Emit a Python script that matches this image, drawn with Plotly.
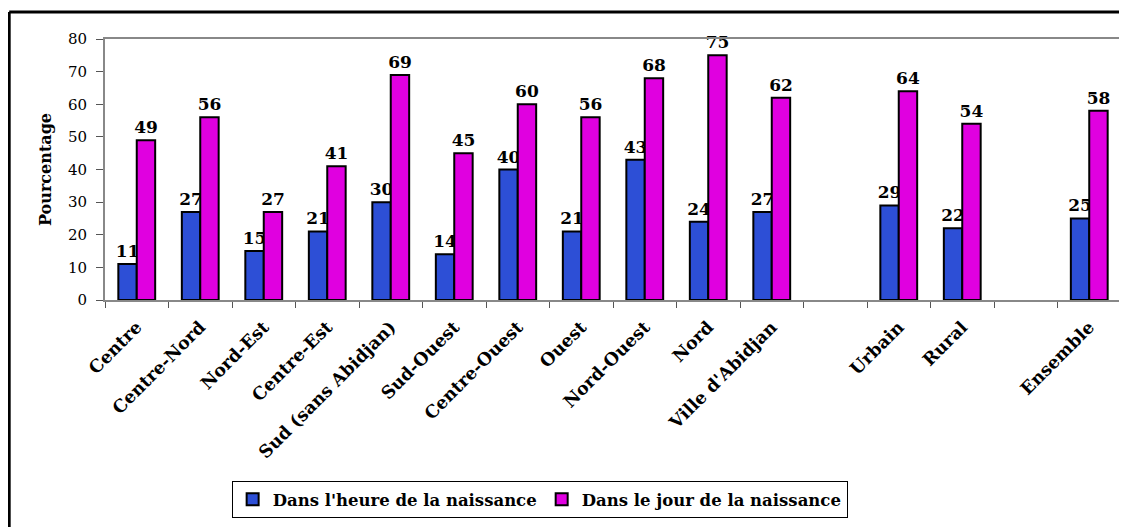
import plotly.graph_objects as go

categories = ["Centre", "Centre-Nord", "Nord-Est", "Centre-Est", "Sud (sans Abidjan)",
              "Sud-Ouest", "Centre-Ouest", "Ouest", "Nord-Ouest", "Nord", "Ville d'Abidjan",
              "Urbain", "Rural", "Ensemble"]
axis_order = ["Centre", "Centre-Nord", "Nord-Est", "Centre-Est", "Sud (sans Abidjan)",
              "Sud-Ouest", "Centre-Ouest", "Ouest", "Nord-Ouest", "Nord", "Ville d'Abidjan",
              " ", "Urbain", "Rural", "  ", "Ensemble"]
heure = [11, 27, 15, 21, 30, 14, 40, 21, 43, 24, 27, 29, 22, 25]
jour = [49, 56, 27, 41, 69, 45, 60, 56, 68, 75, 62, 64, 54, 58]
series_names = ["Dans l'heure de la naissance", "Dans le jour de la naissance"]

FONT = "DejaVu Serif"
# page body has an 8px margin: the figure is drawn at (8, 8)
W, H = 1119, 519
L, R, T, B = 97, 4, 31, 227
pw = W - L - R
ph = H - T - B

fig = go.Figure()
for name, vals, col in [(series_names[0], heure, "#2d4fd6"), (series_names[1], jour, "#e000e0")]:
    fig.add_trace(go.Bar(
        x=categories, y=vals, name=name,
        marker=dict(color=col, line=dict(color="black", width=2)),
        text=[str(v) for v in vals], textposition="outside", constraintext="none",
        textfont=dict(family=FONT, size=17, color="black", weight="bold"),
        cliponaxis=False,
    ))

fig.update_layout(
    width=W, height=H,
    margin=dict(l=L, r=R, t=T, b=B),
    paper_bgcolor="white", plot_bgcolor="white",
    barmode="group", bargap=0.42, bargroupgap=0,
    font=dict(family=FONT, color="black"),
    legend=dict(orientation="h", x=(532.5 - L) / pw, xanchor="center", y=(292 - 473) / ph, yanchor="top",
                bordercolor="black", borderwidth=1, bgcolor="white",
                font=dict(family=FONT, size=16.5, color="black", weight="bold"),
                itemwidth=30, tracegroupgap=0),
    xaxis=dict(type="category", categoryorder="array", categoryarray=axis_order,
               tickson="boundaries", ticks="outside", ticklen=6, tickcolor="#555",
               tickangle=-45, ticklabelstandoff=8,
               tickfont=dict(family=FONT, size=17.5, color="black", weight="bold"),
               showline=True, linecolor="#888", linewidth=2, mirror=True, showgrid=False,
               range=[-0.5, 15.5]),
    yaxis=dict(range=[0, 80], dtick=10, ticks="outside", ticklen=7, tickcolor="#555",
               ticklabelstandoff=6,
               tickfont=dict(family=FONT, size=15, color="black"),
               showline=True, linecolor="#888", linewidth=2, mirror=True, showgrid=False,
               zeroline=False,
               title=dict(text="Pourcentage", font=dict(family=FONT, size=16, color="black", weight="bold"),
                          standoff=12)),
)

# outer frame (top and left edges visible)
x_left = (1 - L) / pw
y_top = (292 - 4) / ph
fig.add_shape(type="line", xref="paper", yref="paper", x0=x_left, x1=(W - L) / pw + 0.02,
              y0=y_top, y1=y_top, line=dict(color="black", width=3))
fig.add_shape(type="line", xref="paper", yref="paper", x0=x_left, x1=x_left,
              y0=y_top, y1=(292 - H) / ph - 0.05, line=dict(color="black", width=3))

fig.write_html("out.html")
